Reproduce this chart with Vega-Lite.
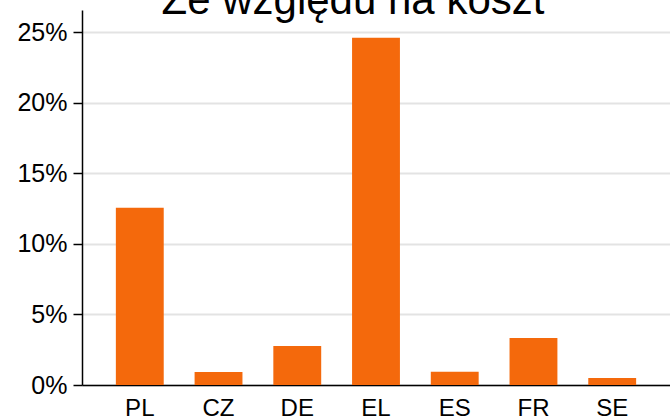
{
  "$schema": "https://vega.github.io/schema/vega-lite/v6.json",
  "autosize": {"type": "none"},
  "width": 588,
  "height": 375,
  "padding": {"left": 82, "top": 10, "right": 0, "bottom": 35},
  "background": "white",
  "title": {
    "text": "Ze względu na koszt",
    "font": "Liberation Sans",
    "fontSize": 42,
    "fontWeight": "normal",
    "color": "#000000",
    "anchor": "middle",
    "frame": "group",
    "baseline": "alphabetic",
    "offset": 0,
    "dy": 46,
    "dx": -23
  },
  "data": {
    "values": [
      {"country": "PL", "value": 0.1255},
      {"country": "CZ", "value": 0.0092},
      {"country": "DE", "value": 0.0277},
      {"country": "EL", "value": 0.246},
      {"country": "ES", "value": 0.0094},
      {"country": "FR", "value": 0.0333},
      {"country": "SE", "value": 0.005}
    ]
  },
  "mark": {"type": "bar", "color": "#F4690C"},
  "encoding": {
    "x": {
      "field": "country",
      "type": "nominal",
      "sort": null,
      "scale": {"paddingInner": 0.392, "paddingOuter": 0.43},
      "axis": {
        "title": null,
        "labelAngle": 0,
        "labelFont": "Liberation Sans",
        "labelFontSize": 24,
        "labelColor": "#000000",
        "ticks": false,
        "labelPadding": 11,
        "domainColor": "#000000",
        "domainWidth": 1.5
      }
    },
    "y": {
      "field": "value",
      "type": "quantitative",
      "scale": {"domain": [0, 0.2656], "nice": false},
      "axis": {
        "title": null,
        "values": [0, 0.05, 0.1, 0.15, 0.2, 0.25],
        "format": ".0%",
        "labelFont": "Liberation Sans",
        "labelFontSize": 25,
        "labelColor": "#000000",
        "tickSize": 9,
        "tickColor": "#000000",
        "tickWidth": 1.5,
        "labelPadding": 6,
        "domainColor": "#000000",
        "domainWidth": 1.5,
        "grid": true,
        "gridColor": "#e3e3e3",
        "gridWidth": 2
      }
    }
  },
  "config": {"view": {"stroke": null}}
}
